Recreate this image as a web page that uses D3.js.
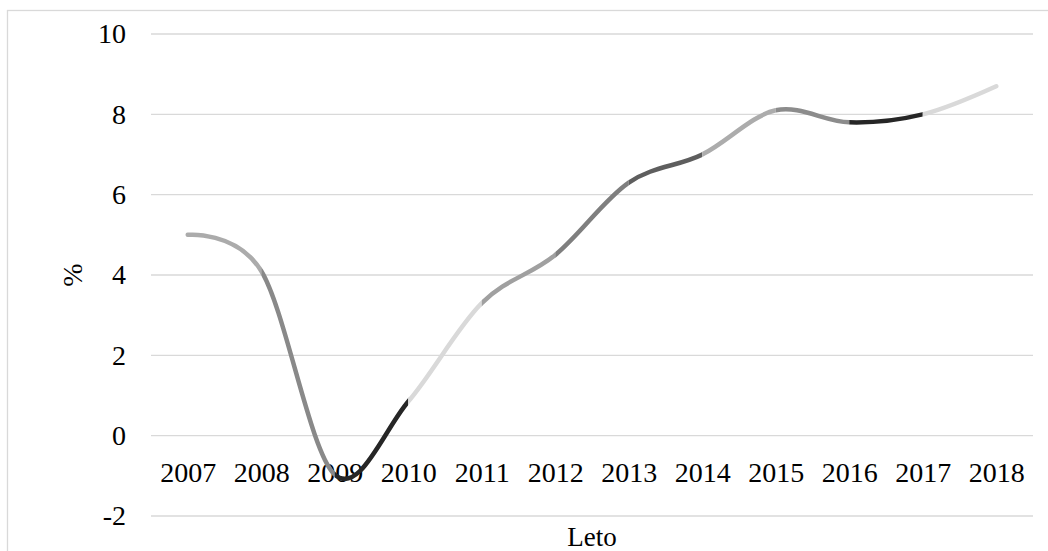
<!DOCTYPE html>
<html>
<head>
<meta charset="utf-8">
<script src="https://cdn.jsdelivr.net/npm/d3@7"></script>
<style>
  html, body { margin: 0; padding: 0; background: #fff; }
  svg { display: block; }
  text { font-family: "Liberation Serif", "Times New Roman", serif; fill: #000; }
</style>
</head>
<body>
<svg id="chart" width="1048" height="551"></svg>
<script>
const categories = ["2007","2008","2009","2010","2011","2012","2013","2014","2015","2016","2017","2018"];
const values = [5.0, 4.1, -0.97, 0.85, 3.3, 4.5, 6.3, 7.0, 8.1, 7.8, 8.0, 8.7];
const yTicks = [-2, 0, 2, 4, 6, 8, 10];
const segmentColors = ["#ababab","#898989","#262626","#d9d9d9","#a0a0a0","#7f7f7f","#5e5e5e","#acacac","#8c8c8c","#262626","#d9d9d9"];
const xTitle = "Leto";
const yTitle = "%";

const W = 1048, H = 551;
const plot = { left: 151, right: 1033, top: 34, bottom: 516 };

const svg = d3.select("#chart");

// outer chart border
svg.append("rect")
  .attr("x", 7.5).attr("y", 10.5)
  .attr("width", 1050).attr("height", 560)
  .attr("fill", "none").attr("stroke", "#d9d9d9").attr("stroke-width", 1.3);

const x = d3.scalePoint().domain(categories).range([plot.left, plot.right]).padding(0.5);
const y = d3.scaleLinear().domain([-2, 10]).range([plot.bottom, plot.top]);

// gridlines
svg.append("g").selectAll("line").data(yTicks).join("line")
  .attr("x1", plot.left).attr("x2", plot.right)
  .attr("y1", d => y(d)).attr("y2", d => y(d))
  .attr("stroke", "#d9d9d9").attr("stroke-width", 1.3);

// y axis labels
const yAxis = d3.axisLeft(y).tickValues(yTicks).tickSize(0).tickPadding(0).tickFormat(d => String(d));
const yg = svg.append("g").attr("transform", `translate(126,0)`).call(yAxis);
yg.select(".domain").remove();
yg.selectAll("text").attr("font-size", 28).attr("font-family", "Liberation Serif").attr("fill", "#000");

// x axis labels next to 0 line
const xAxis = d3.axisBottom(x).tickSize(0).tickPadding(0);
const xg = svg.append("g").attr("transform", `translate(0,${y(0)})`).call(xAxis);
xg.select(".domain").remove();
xg.selectAll("text").attr("font-size", 28).attr("font-family", "Liberation Serif").attr("fill", "#000")
  .attr("dy", null).attr("y", 46);

// titles
svg.append("text").attr("x", (plot.left + plot.right) / 2).attr("y", 546)
  .attr("text-anchor", "middle").attr("font-size", 27).text(xTitle);
svg.append("text").attr("transform", `translate(82,${(plot.top + plot.bottom) / 2}) rotate(-90)`)
  .attr("text-anchor", "middle").attr("font-size", 28).text(yTitle);

// smoothed line, coloured per segment via clip paths
const data = categories.map((c, i) => ({ c, v: values[i] }));
const line = d3.line().x(d => x(d.c)).y(d => y(d.v)).curve(d3.curveCardinal.tension(0));
const pathD = line(data);

const defs = svg.append("defs");
for (let i = 0; i < categories.length - 1; i++) {
  const x0 = i === 0 ? x(categories[i]) - 10 : x(categories[i]);
  const x1 = i === categories.length - 2 ? x(categories[i + 1]) + 10 : x(categories[i + 1]);
  defs.append("clipPath").attr("id", "seg" + i)
    .append("rect").attr("x", x0).attr("y", 0).attr("width", x1 - x0).attr("height", H);
  svg.append("path")
    .attr("d", pathD)
    .attr("fill", "none")
    .attr("stroke", segmentColors[i])
    .attr("stroke-width", 4.5)
    .attr("stroke-linecap", "round")
    .attr("stroke-linejoin", "round")
    .attr("clip-path", `url(#seg${i})`);
}
</script>
</body>
</html>
